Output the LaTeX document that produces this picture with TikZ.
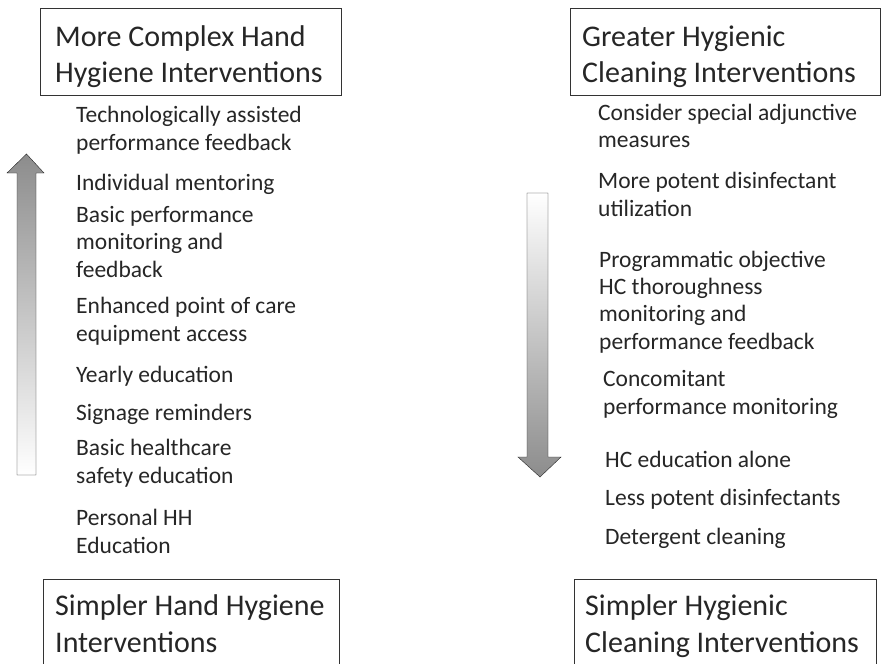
\documentclass[tikz,border=0pt]{standalone}
\usepackage{fontspec}
\setmainfont{Carlito}
\usepackage{tikz}
\usetikzlibrary{positioning, calc, shadings}
\tikzset{
    titlebox/.style={
        draw=black!80,
        thick,
        anchor=north west,
        minimum width=#1,
        minimum height=87pt,
        inner sep=0pt,
    },
    titletext/.style={
        anchor=base west,
        align=left,
        inner sep=0pt,
        font=\fontsize{30}{36.5}\selectfont,
        text=black!85,
    },
    item/.style={
        anchor=base west,
        align=left,
        inner sep=0pt,
        font=\fontsize{23.5}{27.3}\selectfont,
        text=black!85,
    },
}

\begin{document}
\begin{tikzpicture}[x=1pt,y=-1pt]
      \clip (0,0) rectangle (882,663);
      \fill[white] (0,0) rectangle (882,663);

      % boxes and their titles
      \node [titlebox=301pt] (hhtopbox) at (40,8) {};
      \node [titlebox=310pt] (hctopbox) at (570,8) {};
      \node [titlebox=296pt] (hhbotbox) at (43,579) {};
      \node [titlebox=302pt] (hcbotbox) at (574,579) {};
      \node [titletext] (hhtop) at (55,83) {More Complex Hand\\Hygiene Interventions};
      \node [titletext] (hctop) at (582,83) {Greater Hygienic\\Cleaning Interventions};
      \node [titletext] (hhbot) at (55,652) {Simpler Hand Hygiene\\Interventions};
      \node [titletext] (hcbot) at (585,652) {Simpler Hygienic\\Cleaning Interventions};

      % hand hygiene steps (anchored on last line)
      \node [item] (hh1) at (76,150) {Technologically assisted\\performance feedback};
      \node [item] (hh2) at (76,190) {Individual mentoring};
      \node [item] (hh3) at (76,277) {Basic performance\\monitoring and\\feedback};
      \node [item] (hh4) at (76,341) {Enhanced point of care\\equipment access};
      \node [item] (hh5) at (76,382) {Yearly education};
      \node [item] (hh6) at (76,420) {Signage reminders};
      \node [item] (hh7) at (76,483) {Basic healthcare\\safety education};
      \node [item] (hh8) at (76,553) {Personal HH\\Education};

      % cleaning steps
      \node [item] (hc1) at (598,148) {Consider special adjunctive\\measures};
      \node [item] (hc2) at (598,216) {More potent disinfectant\\utilization};
      \node [item] (hc3) at (599,349) {Programmatic objective\\HC thoroughness\\monitoring and\\performance feedback};
      \node [item] (hc4) at (603,414) {Concomitant\\performance monitoring};
      \node [item] (hc5) at (605,467) {HC education alone};
      \node [item] (hc6) at (605,505) {Less potent disinfectants};
      \node [item] (hc7) at (605,544) {Detergent cleaning};

      % arrows
      \draw[black!85, top color=black!45, bottom color=white]
        (17,475) -- (17,173) -- (7,173) -- (26.5,154) -- (44,173) -- (36,173) -- (36,475) -- cycle;
      \draw[black!85, top color=white, bottom color=black!45]
        (527,193) -- (527,457) -- (518,457) -- (540,477) -- (561,457) -- (548,457) -- (548,193) -- cycle;
\end{tikzpicture}
\end{document}
